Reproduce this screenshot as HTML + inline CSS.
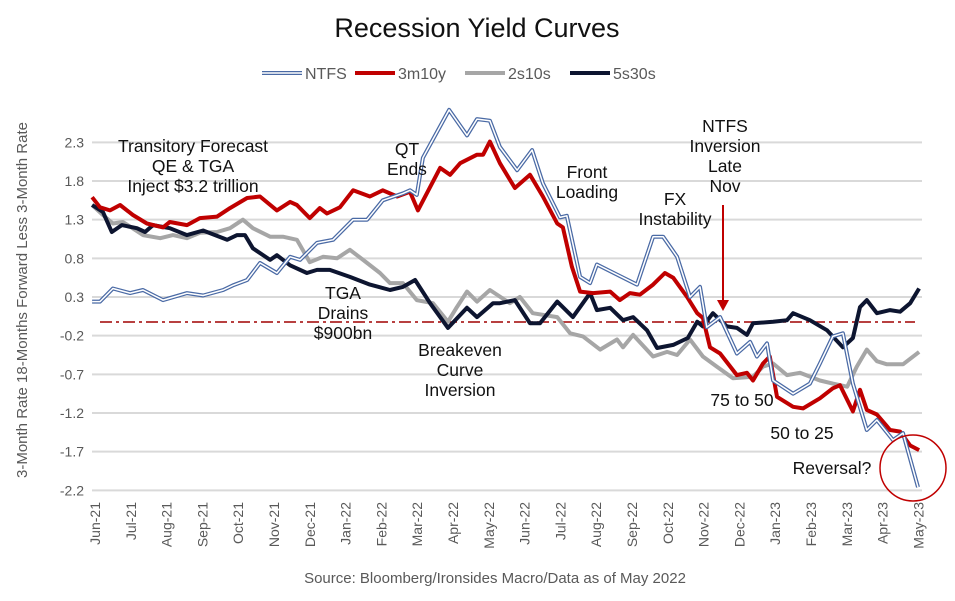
<!DOCTYPE html>
<html><head><meta charset="utf-8"><style>
html,body{margin:0;padding:0;background:#fff;}
svg{display:block;font-family:"Liberation Sans",Arial,sans-serif;}
</style></head><body>
<svg id="chart" width="955" height="601" viewBox="0 0 955 601">
<text x="477" y="37" text-anchor="middle" font-size="27" fill="#111">Recession Yield Curves</text>
<g id="legend">
 <g><line x1="262" y1="73" x2="302" y2="73" stroke="#4a6aa5" stroke-width="4"/><line x1="262" y1="73" x2="302" y2="73" stroke="#fff" stroke-width="1.5"/><text x="305" y="79" font-size="16" fill="#595959">NTFS</text></g>
 <g><line x1="355" y1="73" x2="395" y2="73" stroke="#c00000" stroke-width="4"/><text x="398" y="79" font-size="16" fill="#595959">3m10y</text></g>
 <g><line x1="465" y1="73" x2="505" y2="73" stroke="#a6a6a6" stroke-width="4"/><text x="508" y="79" font-size="16" fill="#595959">2s10s</text></g>
 <g><line x1="570" y1="73" x2="610" y2="73" stroke="#0d1530" stroke-width="4"/><text x="613" y="79" font-size="16" fill="#595959">5s30s</text></g>
</g>
<text transform="translate(27,300) rotate(-90)" text-anchor="middle" font-size="15" fill="#595959">3-Month Rate 18-Months Forward Less 3-Month Rate</text>
<g id="grid"></g><g id="yticks"></g><g id="xticks"></g>
<line x1="100" y1="322" x2="915" y2="322" stroke="#a00000" stroke-width="1.5" stroke-dasharray="12,4,3,4"/>
<g id="series"></g>
<g font-size="17.5" fill="#111" text-anchor="middle">
 <text x="193" y="152"><tspan x="193">Transitory Forecast</tspan><tspan x="193" dy="20">QE &amp; TGA</tspan><tspan x="193" dy="20">Inject $3.2 trillion</tspan></text>
 <text x="407" y="155"><tspan x="407">QT</tspan><tspan x="407" dy="20">Ends</tspan></text>
 <text x="343" y="299"><tspan x="343">TGA</tspan><tspan x="343" dy="20">Drains</tspan><tspan x="343" dy="20">$900bn</tspan></text>
 <text x="460" y="356"><tspan x="460">Breakeven</tspan><tspan x="460" dy="20">Curve</tspan><tspan x="460" dy="20">Inversion</tspan></text>
 <text x="587" y="178"><tspan x="587">Front</tspan><tspan x="587" dy="20">Loading</tspan></text>
 <text x="675" y="205"><tspan x="675">FX</tspan><tspan x="675" dy="20">Instability</tspan></text>
 <text x="725" y="132"><tspan x="725">NTFS</tspan><tspan x="725" dy="20">Inversion</tspan><tspan x="725" dy="20">Late</tspan><tspan x="725" dy="20">Nov</tspan></text>
 <text x="742" y="406">75 to 50</text>
 <text x="802" y="439">50 to 25</text>
 <text x="832" y="474">Reversal?</text>
</g>
<g><line x1="723" y1="205" x2="723" y2="302" stroke="#c00000" stroke-width="2"/><polygon points="717,300 729,300 723,311" fill="#c00000"/></g>
<circle cx="913" cy="468" r="33" fill="none" stroke="#c00000" stroke-width="1.5"/>
<text x="495" y="583" text-anchor="middle" font-size="15" fill="#595959">Source: Bloomberg/Ironsides Macro/Data as of May 2022</text>
</svg>
<script>
const yTicks=[2.3,1.8,1.3,0.8,0.3,-0.2,-0.7,-1.2,-1.7,-2.2];
const months=["Jun-21","Jul-21","Aug-21","Sep-21","Oct-21","Nov-21","Dec-21","Jan-22","Feb-22","Mar-22","Apr-22","May-22","Jun-22","Jul-22","Aug-22","Sep-22","Oct-22","Nov-22","Dec-22","Jan-23","Feb-23","Mar-23","Apr-23","May-23"];
const ntfsT=[-0.08,0.14,0.5,0.98,1.34,1.9,2.57,3.02,3.58,3.85,4.25,4.61,5.08,5.45,5.73,6.2,6.65,7.21,7.6,8.04,8.6,8.8,8.99,9.16,9.89,10.39,10.67,11.03,11.31,11.79,12.21,12.51,12.99,13.18,13.55,13.83,14.02,14.58,15.14,15.59,15.87,16.26,16.62,16.9,17.09,17.46,17.93,18.3,18.49,18.77,18.94,19.5,19.97,20.25,20.61,20.89,21.17,21.56,21.84,22.29,22.57,22.99];
const ntfsV=[0.24,0.24,0.41,0.35,0.39,0.26,0.35,0.32,0.39,0.45,0.52,0.74,0.61,0.82,0.78,1.0,1.04,1.3,1.3,1.55,1.64,1.68,1.62,2.1,2.72,2.39,2.6,2.58,2.24,1.94,2.2,1.77,1.33,1.35,0.56,0.48,0.72,0.59,0.46,1.08,1.08,0.82,0.3,0.43,-0.09,0.04,-0.43,-0.28,-0.47,-0.3,-0.78,-0.95,-0.82,-0.56,-0.21,-0.17,-0.82,-1.42,-1.29,-1.55,-1.46,-2.16];
const r3m10yT=[-0.08,0.14,0.42,0.7,1.06,1.45,1.9,2.09,2.57,2.93,3.41,3.77,4.25,4.61,5.08,5.45,5.64,6.0,6.28,6.48,6.84,7.21,7.68,8.04,8.44,8.8,9.02,9.64,9.92,10.2,10.67,10.84,11.03,11.31,11.73,12.15,12.51,12.91,13.07,13.32,13.55,13.91,14.39,14.66,14.94,15.22,15.59,15.92,16.15,16.54,16.82,16.98,17.18,17.46,17.93,18.21,18.38,18.66,18.85,19.05,19.5,19.78,20.25,20.61,20.81,21.17,21.37,21.56,21.84,22.21,22.49,22.77,23.02];
const r3m10yV=[1.59,1.46,1.42,1.49,1.36,1.25,1.2,1.27,1.23,1.32,1.34,1.45,1.58,1.6,1.42,1.53,1.49,1.32,1.45,1.38,1.46,1.68,1.6,1.68,1.6,1.66,1.42,1.97,1.88,2.03,2.14,2.14,2.31,2.03,1.71,1.88,1.6,1.25,1.2,0.69,0.37,0.35,0.37,0.26,0.35,0.33,0.46,0.61,0.55,0.3,0.09,0.03,-0.35,-0.43,-0.71,-0.68,-0.78,-0.56,-0.47,-0.99,-1.12,-1.14,-1.01,-0.88,-0.84,-1.18,-0.9,-1.16,-1.22,-1.42,-1.44,-1.62,-1.68];
const s2s10sT=[-0.08,0.22,0.5,0.78,1.34,1.82,2.18,2.57,2.93,3.41,3.77,4.13,4.41,4.89,5.25,5.64,6.0,6.37,6.76,7.12,7.49,7.96,8.24,8.6,8.99,9.44,9.86,10.11,10.39,10.67,11.03,11.59,11.87,12.23,12.91,13.27,13.63,14.11,14.58,14.75,15.03,15.59,15.98,16.26,16.62,16.98,17.37,17.82,18.38,18.66,18.94,19.33,19.69,20.25,20.61,21.01,21.28,21.56,21.84,22.12,22.57,23.02];
const s2s10sV=[1.49,1.36,1.25,1.27,1.1,1.06,1.1,1.06,1.13,1.14,1.19,1.3,1.19,1.08,1.08,1.04,0.75,0.82,0.8,0.91,0.78,0.61,0.48,0.48,0.26,0.22,-0.02,0.17,0.37,0.24,0.39,0.22,0.3,0.09,0.04,-0.17,-0.21,-0.38,-0.25,-0.35,-0.19,-0.47,-0.41,-0.45,-0.25,-0.47,-0.6,-0.75,-0.73,-0.6,-0.56,-0.71,-0.68,-0.78,-0.82,-0.86,-0.6,-0.38,-0.53,-0.57,-0.57,-0.41];
const s5s30sT=[-0.08,0.22,0.47,0.75,1.17,1.4,1.62,2.09,2.57,3.02,3.69,3.97,4.19,4.41,4.89,5.08,5.45,5.92,6.2,6.56,7.12,7.68,8.24,8.6,8.94,9.36,9.86,10.39,10.67,11.12,11.31,11.73,12.15,12.43,12.91,13.35,13.83,14.02,14.39,14.75,15.03,15.42,15.7,16.15,16.56,16.82,16.98,17.26,17.65,17.93,18.21,18.38,18.94,19.33,19.5,19.97,20.45,20.89,21.17,21.37,21.56,21.84,22.21,22.49,22.77,23.02];
const s5s30sV=[1.49,1.4,1.14,1.23,1.19,1.14,1.23,1.19,1.1,1.16,1.04,1.1,1.1,0.93,0.78,0.84,0.71,0.61,0.65,0.65,0.56,0.46,0.39,0.43,0.52,0.22,-0.1,0.16,0.04,0.22,0.22,0.26,-0.04,-0.04,0.24,0.04,0.35,0.13,0.16,0.0,0.04,-0.13,-0.36,-0.32,-0.23,-0.02,-0.08,0.09,-0.08,-0.1,-0.19,-0.04,-0.02,0.0,0.09,0.0,-0.13,-0.35,-0.23,0.17,0.26,0.09,0.13,0.11,0.22,0.41];
const NS="http://www.w3.org/2000/svg";
function yS(v){return 320.2-77.33*v;}
function xS(m){return 95+35.8*m;}
const grid=document.getElementById('grid'),yt=document.getElementById('yticks'),xt=document.getElementById('xticks'),ser=document.getElementById('series');
yTicks.forEach(v=>{
 const l=document.createElementNS(NS,'line');
 l.setAttribute('x1',92);l.setAttribute('x2',922);l.setAttribute('y1',yS(v));l.setAttribute('y2',yS(v));
 l.setAttribute('stroke','#d9d9d9');l.setAttribute('stroke-width','2');
 
 
 grid.appendChild(l);
 const t=document.createElementNS(NS,'text');
 t.setAttribute('x',84);t.setAttribute('y',yS(v)+5);t.setAttribute('text-anchor','end');t.setAttribute('font-size','14');t.setAttribute('fill','#595959');
 t.textContent=v.toFixed(1);
 
 
 yt.appendChild(t);
});
months.forEach((mn,i)=>{
 const t=document.createElementNS(NS,'text');
 const x=xS(i)+5;
 t.setAttribute('transform','translate('+x+',502) rotate(-90)');
 t.setAttribute('text-anchor','end');t.setAttribute('font-size','14');t.setAttribute('fill','#595959');
 t.textContent=mn;
 
 
 xt.appendChild(t);
});
function pts(T,V){return T.map((m,i)=>xS(m).toFixed(1)+','+yS(V[i]).toFixed(1)).join(' ');}
function poly(T,V,color,w,name){
 const p=document.createElementNS(NS,'polyline');
 p.setAttribute('points',pts(T,V));p.setAttribute('fill','none');p.setAttribute('stroke',color);p.setAttribute('stroke-width',w);p.setAttribute('stroke-linejoin','round');
 
 
 ser.appendChild(p);
}
poly(s2s10sT,s2s10sV,'#a6a6a6',4,'series-2s10s');
poly(s5s30sT,s5s30sV,'#0d1530',4,'series-5s30s');
poly(r3m10yT,r3m10yV,'#c00000',4,'series-3m10y');
poly(ntfsT,ntfsV,'#4a6aa5',4,'series-ntfs');
poly(ntfsT,ntfsV,'#ffffff',1.5,'series-ntfs-inner');
</script>
</body></html>
